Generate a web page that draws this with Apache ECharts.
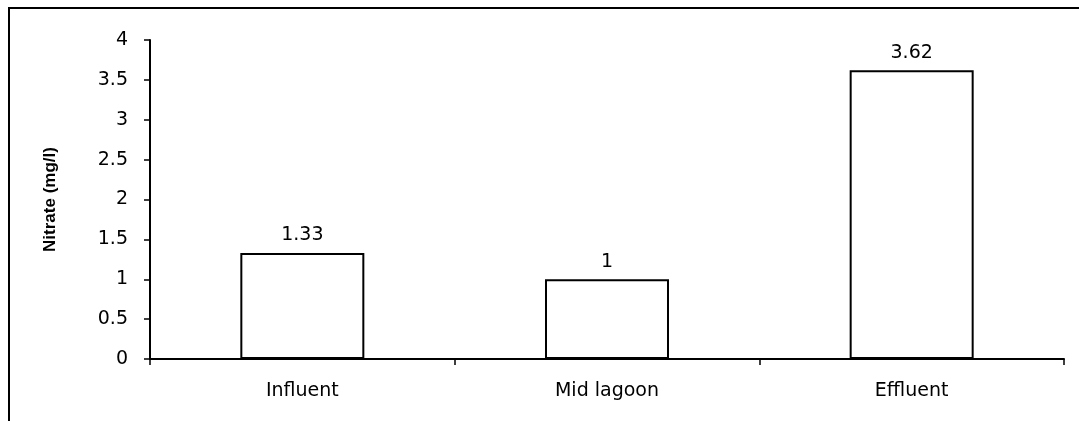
<!DOCTYPE html>
<html>
<head>
<meta charset="utf-8">
<script src="https://cdn.jsdelivr.net/npm/echarts@6/dist/echarts.min.js"></script>
<style>
html,body{margin:0;padding:0;background:#fff;}
#chart{width:1079px;height:421px;}
</style>
</head>
<body>
<div id="chart"></div>
<script>
const categories = ['Influent', 'Mid lagoon', 'Effluent'];
const nitrateValues = [1.33, 1, 3.62];
const yTicks = [0, 0.5, 1, 1.5, 2, 2.5, 3, 3.5, 4];
const yAxisTitle = 'Nitrate (mg/l)';

const chart = echarts.init(document.getElementById('chart'), null, {renderer: 'canvas'});
const font = 'DejaVu Sans, Liberation Sans, Arial, sans-serif';
const titleFont = 'Arial, Liberation Sans, sans-serif';

chart.setOption({
  animation: false,
  backgroundColor: '#fff',
  graphic: [{
    type: 'rect',
    shape: {x: 9, y: 8, width: 1200, height: 600},
    style: {fill: 'none', stroke: '#000', lineWidth: 2},
    silent: true
  }],
  grid: {left: 150, right: 15, top: 40, bottom: 62},
  xAxis: {
    type: 'category',
    data: categories,
    boundaryGap: true,
    axisLine: {lineStyle: {color: '#000', width: 2}},
    axisTick: {show: true, alignWithLabel: false, length: 6, lineStyle: {color: '#000', width: 1.5}},
    axisLabel: {color: '#000', fontFamily: font, fontSize: 19, margin: 23}
  },
  yAxis: {
    type: 'value',
    min: yTicks[0],
    max: yTicks[yTicks.length - 1],
    interval: yTicks[1] - yTicks[0],
    name: yAxisTitle,
    nameLocation: 'middle',
    nameGap: 91,
    nameTextStyle: {color: '#000', fontFamily: titleFont, fontSize: 17, fontWeight: 'bold'},
    axisLine: {show: true, lineStyle: {color: '#000', width: 2}},
    axisTick: {show: true, length: 6, lineStyle: {color: '#000', width: 1.5}},
    splitLine: {show: false},
    axisLabel: {color: '#000', fontFamily: font, fontSize: 19, margin: 22}
  },
  series: [{
    type: 'bar',
    data: nitrateValues,
    barWidth: '40.7%',
    itemStyle: {color: '#fff', borderColor: '#000', borderWidth: 2},
    label: {
      show: true,
      position: 'top',
      distance: 8,
      color: '#000',
      fontFamily: font,
      fontSize: 19
    }
  }]
});
</script>
</body>
</html>
